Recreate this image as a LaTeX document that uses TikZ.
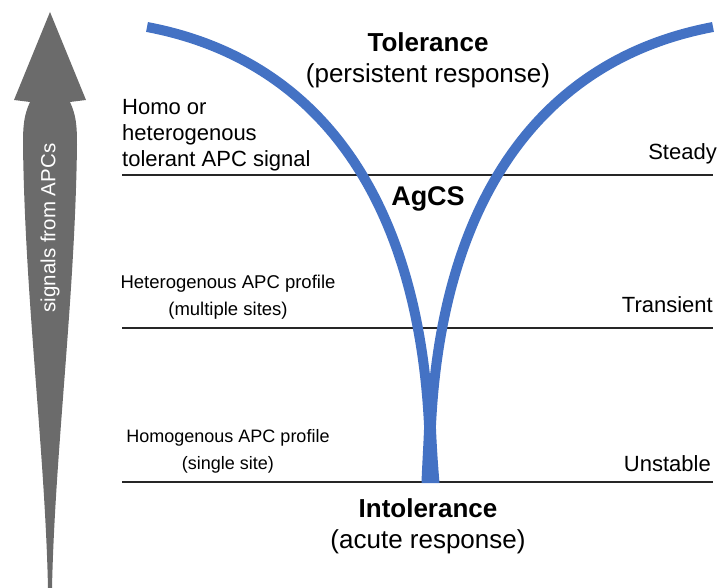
\documentclass[tikz,border=0pt]{standalone}
\usepackage{fontspec}
\setmainfont{Liberation Sans}
\definecolor{vblue}{RGB}{68,114,196}
\definecolor{agray}{RGB}{107,107,107}
\begin{document}
\begin{tikzpicture}[x=1pt,y=-1pt,
  lbl/.style={inner sep=0pt,font=\fontsize{22}{26}\selectfont},
  lbls/.style={inner sep=0pt,font=\fontsize{18.5}{27}\selectfont},
  ttl/.style={inner sep=0pt,font=\fontsize{26}{30}\selectfont\bfseries},
  sub/.style={inner sep=0pt,font=\fontsize{26}{30}\selectfont},
  level/.style={line width=1.4pt,black!85},
  branch/.style={line width=10pt,vblue}]
\useasboundingbox (0,0) rectangle (719,588);
% gray arrow
\fill[agray] (50,12) -- (86,100) -- (70,102) .. controls (76,115) and (77,125) .. (77,145)
  .. controls (75,300) and (55,450) .. (52,588) -- (48,588)
  .. controls (45,450) and (25,300) .. (23,145)
  .. controls (23,125) and (24,115) .. (30,102) -- (14,100) -- cycle;
\node[inner sep=0pt,white,rotate=90,font=\fontsize{20.5}{24}\selectfont] (sig) at (50,228) {signals from APCs};
% level lines
\coordinate (l1a) at (122,175); \coordinate (l1b) at (713,175);
\coordinate (l2a) at (122,328); \coordinate (l2b) at (713,328);
\coordinate (l3a) at (122,482); \coordinate (l3b) at (713,482);
\draw[level] (l1a) -- (l1b);
\draw[level] (l2a) -- (l2b);
\draw[level] (l3a) -- (l3b);
% blue V
\coordinate (ltop) at (147,27);
\coordinate (rtop) at (713,27);
\coordinate (bot) at (430,480);
\draw[branch] (ltop) .. controls (338,63) and (433,230) .. (bot);
\draw[branch] (rtop) .. controls (522,63) and (427,230) .. (bot);
\fill[vblue] (425,400) .. controls (424,440) and (422,465) .. (421.5,483) -- (439.5,483)
  .. controls (438,465) and (436,440) .. (435,400) -- cycle;
% titles
\node[ttl,anchor=base] (tol) at (428,52) {Tolerance};
\node[sub,anchor=base] (pers) at (428,83) {(persistent response)};
\node[ttl,font=\fontsize{27}{30}\selectfont\bfseries,anchor=base] (agcs) at (428,205) {AgCS};
\node[ttl,anchor=base] (intol) at (428,517) {Intolerance};
\node[sub,anchor=base] (acute) at (428,548) {(acute response)};
% left labels
\node[lbl,align=left,anchor=west] (homo) at (122,135) {Homo or\\heterogenous\\tolerant APC signal};
\node[lbls,align=center] (hetero) at (228,297.3) {Heterogenous APC profile\\(multiple sites)};
\node[lbls,align=center,font=\fontsize{18}{27}\selectfont] (homog) at (228,451) {Homogenous APC profile\\(single site)};
% right labels
\node[lbl,anchor=base east] (steady) at (717,160) {Steady};
\node[lbl,anchor=base east] (trans) at (713,312) {Transient};
\node[lbl,anchor=base east] (unst) at (711,471) {Unstable};
\end{tikzpicture}
\end{document}
